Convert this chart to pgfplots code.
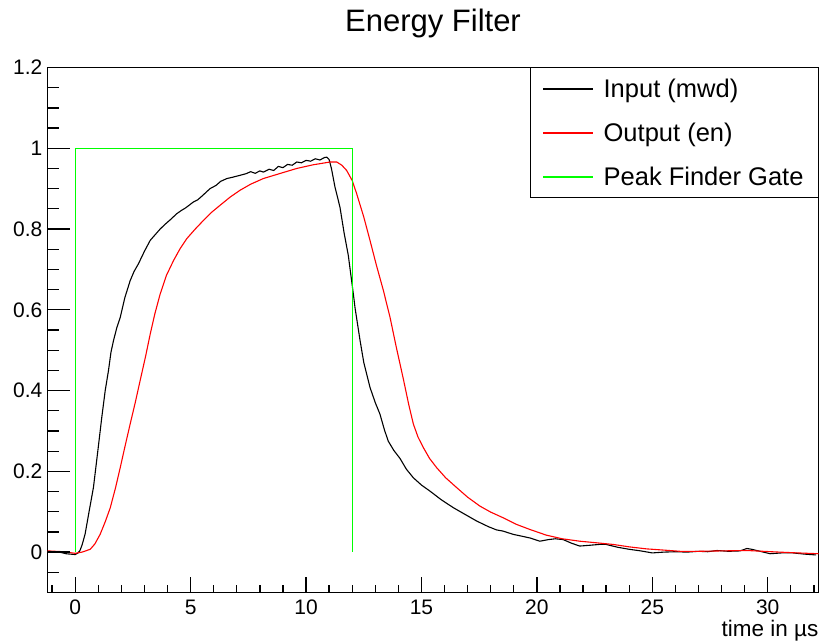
\documentclass[border=0pt]{standalone}
\usepackage{pgfplots}
\pgfplotsset{compat=1.18}
\usepackage{fontspec}
\setmainfont{Liberation Sans}
\definecolor{rootred}{RGB}{255,0,0}
\definecolor{rootgreen}{RGB}{0,255,0}
\pgfplotsset{
  rootframe/.style={
    scale only axis,
    width=771pt, height=525pt,
    xmin=-1.2, xmax=32.2, ymin=-0.1, ymax=1.2,
    ytick={0,0.2,0.4,0.6,0.8,1,1.2},
    minor ytick={-0.1,-0.05,0,0.05,0.1,0.15,0.2,0.25,0.3,0.35,0.4,0.45,0.5,0.55,0.6,0.65,0.7,0.75,0.8,0.85,0.9,0.95,1,1.05,1.1,1.15,1.2},
    tick align=inside,
    xtick pos=left, ytick pos=left,
    tick style={black, line width=1.3pt},
    axis line style={black, line width=1pt},
  }
}
\begin{document}
\begin{tikzpicture}
\useasboundingbox (-47.5pt,-51.5pt) rectangle (773.5pt,592.5pt);
\begin{axis}[
  rootframe,
  xtick={0,5,10,15,20,25,30},
  minor xtick={-1,0,...,32},
  major tick length=15pt, minor tick length=7.5pt,
  /pgf/number format/assume math mode=true,
  ticklabel style={font=\fontsize{21}{25}\selectfont},
  yticklabel style={inner sep=0pt, xshift=-5pt},
  xticklabel style={inner sep=0pt, yshift=-7.5pt},
  title={Energy Filter},
  title style={font=\fontsize{31}{36}\selectfont, at={(0.5,1)}, anchor=base, yshift=30pt},
  xlabel={time in µs},
  xlabel style={font=\fontsize{22.5}{26}\selectfont, at={(1,0)}, anchor=base east, inner sep=0pt, yshift=-44pt},
  legend style={at={(1,1)}, anchor=north east, draw=black, line width=1pt, fill=white,
    inner xsep=11.5pt, inner ysep=6pt, row sep=14pt, column sep=7pt,
    font=\fontsize{25.5}{30}\selectfont,
    nodes={inner sep=3pt, text height=21pt, text depth=3pt}},
  legend cell align=left,
  legend image code/.code={\draw[#1, line width=1.2pt] (0pt,0pt) -- (50pt,0pt);},
]
\addplot[black, line width=1.1pt] coordinates {
(-1.2,0.002) (-0.9,0.001) (-0.6,-0.001) (-0.4,-0.004) (-0.2,-0.005) (0.0,-0.006) (0.1,-0.003)
(0.2,0.003) (0.3,0.018) (0.43,0.045) (0.6,0.10) (0.79,0.16) (1.0,0.26) (1.15,0.333) (1.3,0.40)
(1.44,0.449) (1.55,0.495) (1.66,0.524) (1.8,0.555) (1.95,0.581) (2.15,0.63) (2.38,0.672)
(2.55,0.695) (2.74,0.714) (3.0,0.745) (3.25,0.772) (3.45,0.785) (3.68,0.80) (3.9,0.812)
(4.1,0.822) (4.4,0.838) (4.6,0.846) (4.8,0.853) (5.12,0.867) (5.3,0.872) (5.5,0.882)
(5.84,0.90) (6.1,0.908) (6.3,0.918) (6.57,0.925) (6.8,0.928) (7.14,0.933) (7.4,0.937)
(7.6,0.942) (7.8,0.938) (8.0,0.944) (8.15,0.941) (8.4,0.948) (8.6,0.945) (8.8,0.955)
(9.0,0.952) (9.2,0.960) (9.4,0.958) (9.6,0.966) (9.8,0.964) (10.0,0.970) (10.2,0.968)
(10.4,0.974) (10.6,0.971) (10.8,0.977) (10.9,0.978) (11.0,0.972) (11.1,0.950) (11.25,0.905)
(11.47,0.854) (11.65,0.79) (11.83,0.735) (12.05,0.639) (12.12,0.606) (12.34,0.524)
(12.5,0.47) (12.77,0.408) (13.0,0.37) (13.2,0.342) (13.4,0.302) (13.56,0.275) (13.8,0.252)
(14.07,0.232) (14.35,0.205) (14.65,0.184) (15.0,0.166) (15.37,0.151) (15.85,0.130)
(16.38,0.110) (16.9,0.093) (17.39,0.077) (17.9,0.063) (18.25,0.055) (18.54,0.052)
(18.97,0.044) (19.3,0.040) (19.7,0.035)
(20.13,0.027) (20.5,0.031) (20.8,0.033) (21.14,0.031) (21.5,0.022) (21.86,0.015) (22.3,0.017)
(22.7,0.019) (23.0,0.019) (23.5,0.012) (24.0,0.007) (24.5,0.003) (25.0,-0.002) (25.5,0.000)
(26.0,0.001) (26.5,0.000) (27.0,0.002) (27.4,0.001) (27.8,0.004) (28.3,0.002) (28.8,0.003)
(29.1,0.009) (29.3,0.007) (29.6,0.003) (30.1,-0.004) (30.6,-0.002) (31.1,-0.002) (31.6,-0.005)
(32.1,-0.007)
};
\addlegendentry{Input (mwd)}
\addplot[rootred, line width=1.1pt] coordinates {
(-1.2,0.003) (-0.5,0.001) (0.0,-0.003) (0.3,0.000) (0.65,0.007) (0.85,0.02) (1.08,0.044)
(1.3,0.075) (1.52,0.11) (1.75,0.16) (1.95,0.209) (2.15,0.26) (2.38,0.317) (2.6,0.37)
(2.81,0.424) (3.05,0.485) (3.25,0.54) (3.45,0.59) (3.68,0.639) (3.95,0.685) (4.26,0.722)
(4.55,0.752) (4.83,0.776) (5.2,0.800) (5.55,0.821) (5.9,0.841) (6.28,0.859) (6.71,0.879)
(7.14,0.896) (7.6,0.911) (8.15,0.925) (8.9,0.938) (9.6,0.950) (10.3,0.959) (11.04,0.966)
(11.33,0.966) (11.55,0.958) (11.76,0.945) (12.0,0.92) (12.19,0.888) (12.5,0.83) (12.77,0.772)
(13.05,0.71) (13.35,0.648) (13.64,0.581) (13.9,0.51) (14.21,0.43) (14.45,0.365) (14.65,0.317)
(14.85,0.285) (15.08,0.259) (15.35,0.232) (15.66,0.209) (16.05,0.184) (16.52,0.160)
(17.0,0.136) (17.53,0.114) (18.0,0.099) (18.54,0.085) (19.1,0.069) (19.7,0.056)
(20.41,0.042) (21.1,0.033) (21.86,0.027) (22.6,0.023) (23.3,0.019)
(24.0,0.013) (24.75,0.008) (25.5,0.005) (26.2,0.002) (27.0,0.002) (28.0,0.003) (29.1,0.004)
(30.5,0.000) (31.3,-0.002) (32.2,-0.004)
};
\addlegendentry{Output (en)}
\addplot[rootgreen, line width=1.4pt] coordinates {(0,0) (0,1) (12,1) (12,0)};
\addlegendentry{Peak Finder Gate}
\end{axis}
\begin{axis}[
  rootframe,
  xtick=\empty,
  yticklabels={},
  major tick length=22pt, minor tick length=11pt,
  axis line style={draw=none},
]
\end{axis}
\end{tikzpicture}
\end{document}
